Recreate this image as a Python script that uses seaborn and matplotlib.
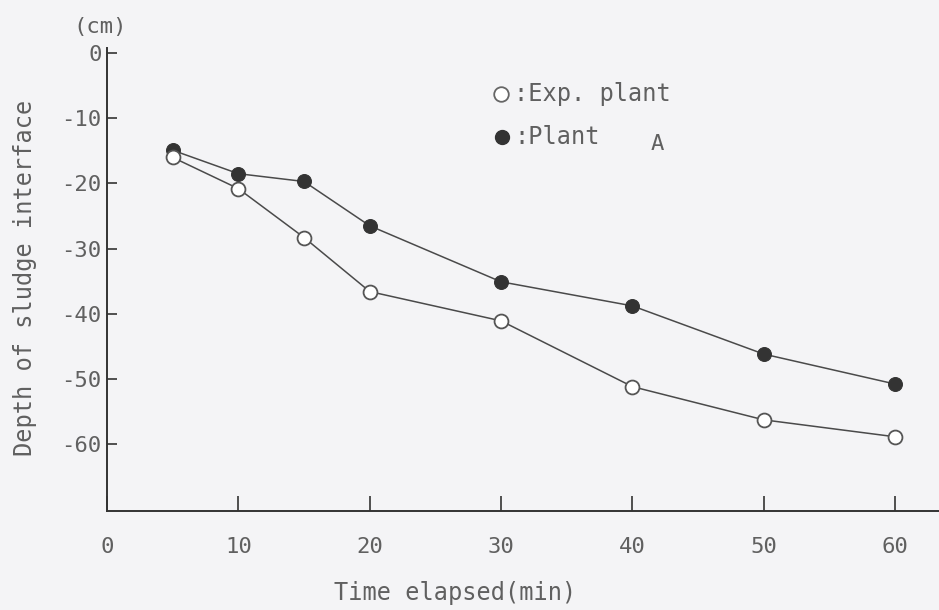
import matplotlib
matplotlib.use("Agg")
import matplotlib.pyplot as plt
import seaborn as sns
import pandas as pd

# Settling of the sludge interface over time
time_min = [5, 10, 15, 20, 30, 40, 50, 60]
exp_plant = [-16.0, -20.8, -28.3, -36.6, -41.1, -51.2, -56.3, -58.9]
plant_a = [-14.9, -18.5, -19.7, -26.5, -35.1, -38.8, -46.2, -50.8]

x_ticks = [0, 10, 20, 30, 40, 50, 60]
y_ticks = [0, -10, -20, -30, -40, -50, -60]

sns.set_style("ticks")
plt.rcParams["font.family"] = ["DejaVu Sans Mono", "DejaVu Sans"]

bg = "#f4f4f6"
txt = "#606060"
ink = "#4a4a4a"

fig = plt.figure(figsize=(9.39, 6.10), dpi=100, facecolor=bg)
ax = fig.add_axes([0.114, 0.1623, 0.886, 0.759])
ax.set_facecolor(bg)

df = pd.DataFrame({"t": time_min, "exp": exp_plant, "a": plant_a})

sns.lineplot(data=df, x="t", y="a", ax=ax, color=ink, lw=1.1,
             marker="o", markersize=10, markerfacecolor="#333333",
             markeredgecolor="#333333", zorder=3)
sns.lineplot(data=df, x="t", y="exp", ax=ax, color=ink, lw=1.1,
             marker="o", markersize=10, markerfacecolor="white",
             markeredgecolor="#555555", markeredgewidth=1.3, zorder=4)

ax.set_xlim(0, 63.35)
ax.set_ylim(-70.3, 0.8)
ax.set_xticks(x_ticks)
ax.set_yticks(y_ticks)
ax.set_xticklabels([str(v) for v in x_ticks])
ax.set_yticklabels([str(v) for v in y_ticks])

for s in ["top", "right"]:
    ax.spines[s].set_visible(False)
for s in ["left", "bottom"]:
    ax.spines[s].set_color("#333333")
    ax.spines[s].set_linewidth(1.4)

ax.tick_params(axis="x", direction="in", length=11, width=1.2, color="#333333",
               pad=19, labelsize=16, labelcolor=txt)
ax.tick_params(axis="y", direction="in", length=7, width=1.2, color="#333333",
               pad=4, labelsize=16, labelcolor=txt)

ax.set_xlabel("Time elapsed(min)", fontsize=17, color=txt, va="center")
ax.xaxis.set_label_coords(0.418, -0.177)
ax.set_ylabel("Depth of sludge interface", fontsize=17, color=txt, va="center")
ax.yaxis.set_label_coords(-0.099, 0.503)
ax.text(-0.5, 4.0, "(cm)", fontsize=16, color=txt, ha="center", va="center",
        clip_on=False)

# legend drawn as marker + text
ax.plot([30.0], [-6.2], marker="o", markersize=10.5, markerfacecolor="white",
        markeredgecolor="#666666", markeredgewidth=1.3, linestyle="none")
ax.plot([30.1], [-12.9], marker="o", markersize=10, markerfacecolor="#333333",
        markeredgecolor="#333333", linestyle="none")
ax.text(31.0, -6.2, ":Exp. plant", fontsize=17, color=txt, va="center", ha="left")
ax.text(31.0, -12.9, ":Plant", fontsize=17, color=txt, va="center", ha="left")
ax.text(41.9, -14.0, "A", fontsize=16, color=txt, va="center", ha="center")

fig.savefig("out.png", dpi=100, facecolor=bg)
